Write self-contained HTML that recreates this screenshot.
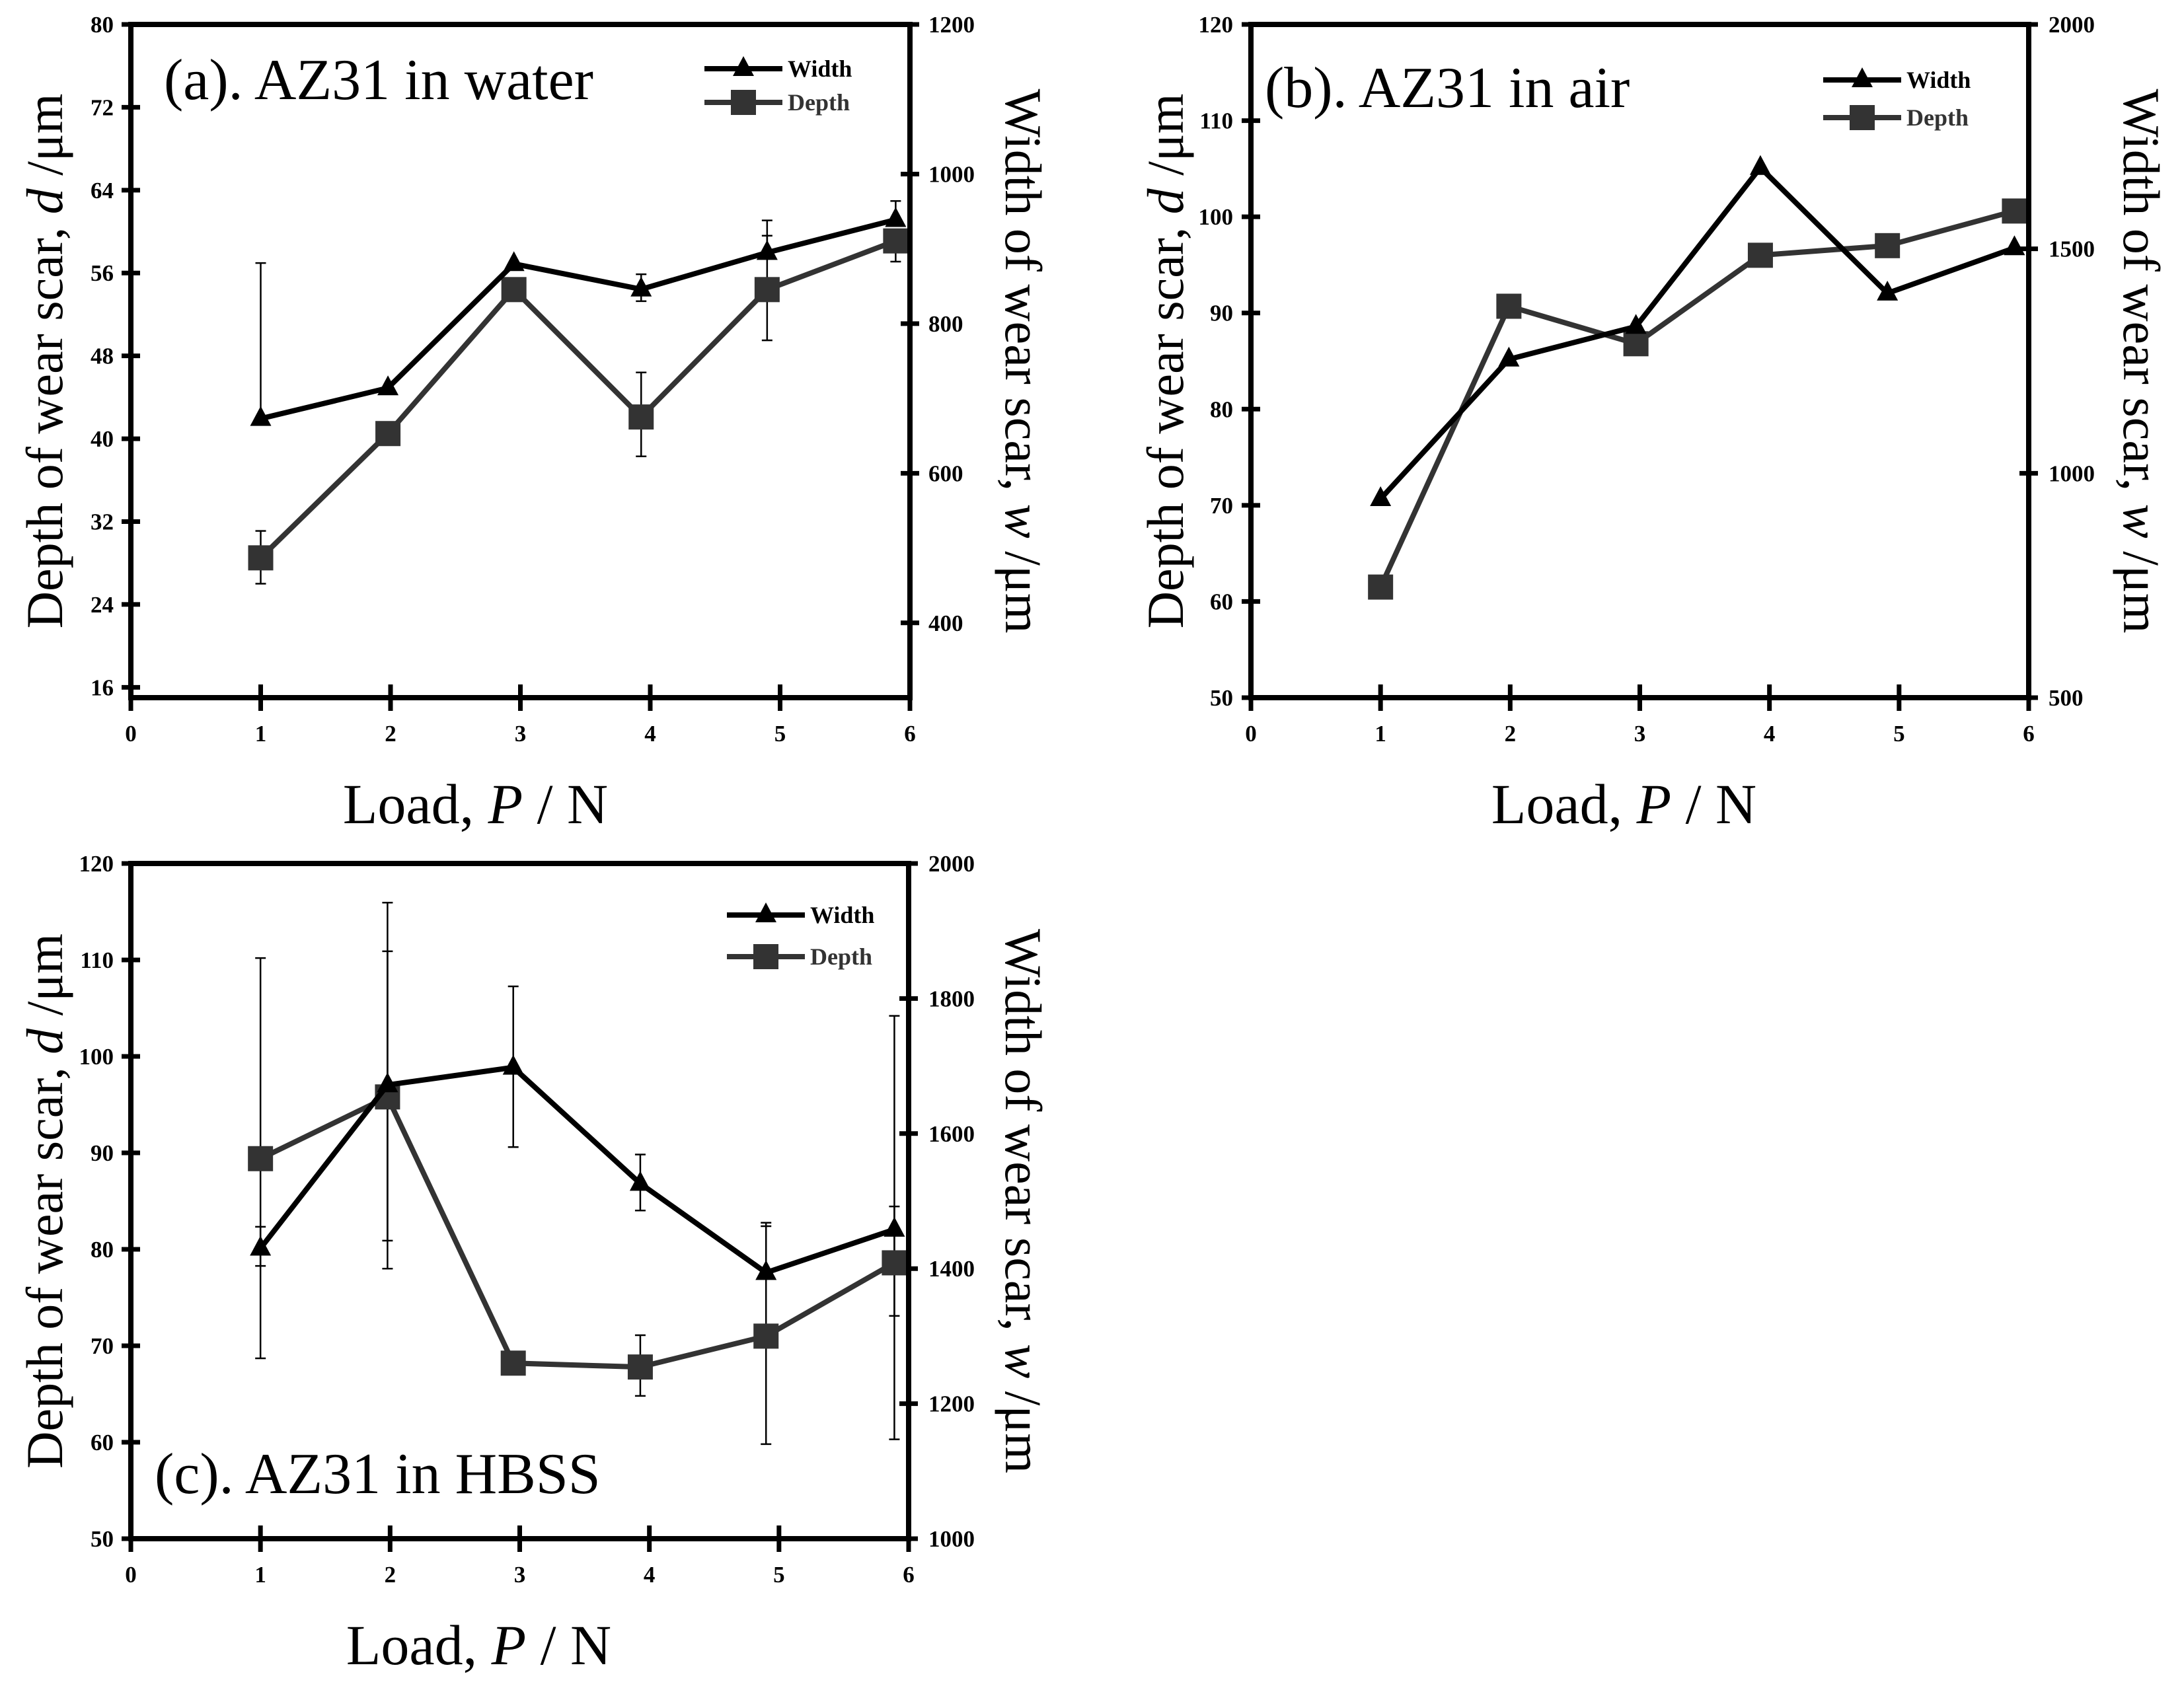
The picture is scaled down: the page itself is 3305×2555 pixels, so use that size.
<!DOCTYPE html>
<html><head><meta charset="utf-8">
<style>
html,body{margin:0;padding:0;background:#fff;}
svg{display:block;}
text{font-family:"Liberation Serif",serif;}
</style></head>
<body>
<svg id="chart" width="3305" height="2555" viewBox="0 0 3305 2555" xmlns="http://www.w3.org/2000/svg"></svg>
<script>
// ---------- data ----------
const loadsA = [1, 1.98, 2.95, 3.93, 4.9, 5.89];
const depthA = [28.5, 40.5, 54.4, 42.1, 54.4, 59.1];
const depthAHi = [31.1, 40.5, 54.4, 46.4, 59.6, 59.1];
const depthALo = [26.0, 40.5, 54.4, 38.3, 49.5, 57.1];
const widthA = [673, 714, 880, 846, 895, 939];
const widthAHi = [881, 714, 880, 866, 938, 964];
const widthALo = [673, 714, 880, 830, 895, 939];

const loadsB = [1, 1.99, 2.97, 3.93, 4.91, 5.89];
const depthB = [61.5, 90.7, 86.8, 96.0, 97.0, 100.6];
const widthB = [943, 1254, 1327, 1681, 1401, 1502];

const loadsC = [1, 1.98, 2.95, 3.93, 4.9, 5.89];
const depthC = [89.4, 95.8, 68.2, 67.8, 71.0, 78.6];
const depthCHi = [110.2, 110.9, 68.2, 71.1, 82.4, 104.2];
const depthCLo = [68.7, 80.9, 68.2, 64.8, 59.8, 60.3];
const widthC = [1430, 1672, 1698, 1526, 1394, 1458];
const widthCHi = [1462, 1942, 1818, 1569, 1468, 1492];
const widthCLo = [1404, 1400, 1580, 1486, 1394, 1330];

const xTicks = [0, 1, 2, 3, 4, 5, 6];
const leftTicksA = [16, 24, 32, 40, 48, 56, 64, 72, 80];
const rightTicksA = [400, 600, 800, 1000, 1200];
const leftTicksB = [50, 60, 70, 80, 90, 100, 110, 120];
const rightTicksB = [500, 1000, 1500, 2000];
const leftTicksC = [50, 60, 70, 80, 90, 100, 110, 120];
const rightTicksC = [1000, 1200, 1400, 1600, 1800, 2000];

const titleA = "(a). AZ31 in water";
const titleB = "(b). AZ31 in air";
const titleC = "(c). AZ31 in HBSS";

// ---------- drawing ----------
const svg = document.getElementById('chart');
const NS = "http://www.w3.org/2000/svg";
function mk(tag, attrs, parent){
  const e = document.createElementNS(NS, tag);
  for (const k in attrs) e.setAttribute(k, attrs[k]);
  (parent || svg).appendChild(e);
  return e;
}

function panel(p){
  const g = mk('g', {});
  
  
  const X = v => p.x0 + (v - 0) / 6 * (p.x1 - p.x0);
  const YL = v => p.y1 - (v - p.lmin) / (p.lmax - p.lmin) * (p.y1 - p.y0);
  const YR = v => p.y1 - (v - p.rmin) / (p.rmax - p.rmin) * (p.y1 - p.y0);

  xTicks.forEach(t => {
    const x = X(t);
    const tk = mk('line', {x1:x, x2:x, y1:p.y1-20, y2:p.y1+20, stroke:'#000','stroke-width':7}, g);
    
    
    const lb = mk('text', {x:x, y:p.y1+66, 'text-anchor':'middle','font-size':35,'font-weight':'bold'}, g);
    lb.textContent = t;
    
    
  });
  p.lt.forEach(t => {
    const y = YL(t);
    const tk = mk('line', {x1:p.x0-14, x2:p.x0+14, y1:y, y2:y, stroke:'#000','stroke-width':7}, g);
    
    
    const lb = mk('text', {x:p.lx, y:y+12, 'text-anchor':'end','font-size':35,'font-weight':'bold'}, g);
    lb.textContent = t;
    
    
  });
  p.rt.forEach(t => {
    const y = YR(t);
    const tk = mk('line', {x1:p.x1-14, x2:p.x1+14, y1:y, y2:y, stroke:'#000','stroke-width':7}, g);
    
    
    const lb = mk('text', {x:p.rx, y:y+12, 'text-anchor':'start','font-size':35,'font-weight':'bold'}, g);
    lb.textContent = t;
    
    
  });

  function err(xs, hi, lo, Y, name){
    xs.forEach((v, i) => {
      if (hi[i] === lo[i]) return;
      const x = X(v), a = Y(hi[i]), b = Y(lo[i]);
      const l = mk('path', {d:`M${x},${a}V${b}M${x-8},${a}H${x+8}M${x-8},${b}H${x+8}`, stroke:'#000','stroke-width':2.5, fill:'none'}, g);
      
      
    });
  }
  if (p.dHi) err(p.xs, p.dHi, p.dLo, YL, 'depth-error-bar');
  if (p.wHi) err(p.xs, p.wHi, p.wLo, YR, 'width-error-bar');

  const dl = mk('polyline', {points:p.xs.map((v,i)=>X(v)+','+YL(p.depth[i])).join(' '), fill:'none', stroke:'#333','stroke-width':8,'stroke-linejoin':'miter'}, g);
  
  
  p.xs.forEach((v,i) => {
    const s = mk('rect', {x:X(v)-19, y:YL(p.depth[i])-19, width:38, height:38, fill:'#333'}, g);
    
    
  });
  const wl = mk('polyline', {points:p.xs.map((v,i)=>X(v)+','+YR(p.width[i])).join(' '), fill:'none', stroke:'#000','stroke-width':8,'stroke-linejoin':'miter'}, g);
  
  
  p.xs.forEach((v,i) => {
    const x = X(v), y = YR(p.width[i]);
    const t = mk('polygon', {points:`${x},${y-19} ${x-16},${y+11} ${x+16},${y+11}`, fill:'#000'}, g);
    
    
  });

  const fr = mk('rect', {x:p.x0, y:p.y0, width:p.x1-p.x0, height:p.y1-p.y0, fill:'none', stroke:'#000','stroke-width':8}, g);
  
  

  const lg = mk('g', {}, g);
  
  
  const ly1 = p.legY, ly2 = p.legY + p.legDy;
  const e1 = mk('line', {x1:p.legX, x2:p.legX+118, y1:ly1, y2:ly1, stroke:'#000','stroke-width':8}, lg);
  
  
  const mx = p.legX+59;
  const e2 = mk('polygon', {points:`${mx},${ly1-19} ${mx-16},${ly1+11} ${mx+16},${ly1+11}`, fill:'#000'}, lg);
  
  
  const t1 = mk('text', {x:p.legX+126, y:ly1+12, 'font-size':36,'font-weight':'bold', fill:'#000'}, lg);
  t1.textContent = 'Width';
  
  
  const e3 = mk('line', {x1:p.legX, x2:p.legX+118, y1:ly2, y2:ly2, stroke:'#333','stroke-width':8}, lg);
  
  
  const e4 = mk('rect', {x:mx-19, y:ly2-19, width:38, height:38, fill:'#333'}, lg);
  
  
  const t2 = mk('text', {x:p.legX+126, y:ly2+12, 'font-size':36,'font-weight':'bold', fill:'#333'}, lg);
  t2.textContent = 'Depth';
  
  

  const tt = mk('text', {x:p.tx, y:p.ty, 'font-size':88}, g);
  tt.textContent = p.title;
  
  

  const cy = (p.y0 + p.y1) / 2;
  const at = mk('text', {x:0, y:0, 'font-size':78, 'text-anchor':'middle', transform:`translate(${p.ltx},${cy}) rotate(-90)`}, g);
  at.innerHTML = 'Depth of wear scar, <tspan font-style="italic">d</tspan> /μm';
  
  
  const rt = mk('text', {x:0, y:0, 'font-size':78, 'text-anchor':'middle', transform:`translate(${p.rtx},${cy}) rotate(90)`}, g);
  rt.innerHTML = 'Width of wear scar, <tspan font-style="italic">w</tspan> /μm';
  
  
  const xt = mk('text', {x:(p.x0+p.x1)/2+p.xtOff, y:p.y1+190, 'font-size':86, 'text-anchor':'middle'}, g);
  xt.innerHTML = 'Load, <tspan font-style="italic">P</tspan> / N';
  
  
}

panel({name:'panel-a', x0:198, x1:1377, y0:37, y1:1056, lmin:15, lmax:80, rmin:300, rmax:1200,
  lt:leftTicksA, rt:rightTicksA, lx:172, rx:1405, xs:loadsA, depth:depthA, width:widthA,
  dHi:depthAHi, dLo:depthALo, wHi:widthAHi, wLo:widthALo,
  legX:1066, legY:104, legDy:51, title:titleA, tx:248, ty:150, ltx:94, rtx:1522, xtOff:-68});
panel({name:'panel-b', x0:1893, x1:3070, y0:37, y1:1056, lmin:50, lmax:120, rmin:500, rmax:2000,
  lt:leftTicksB, rt:rightTicksB, lx:1866, rx:3100, xs:loadsB, depth:depthB, width:widthB,
  legX:2759, legY:121, legDy:57, title:titleB, tx:1914, ty:162, ltx:1790, rtx:3214, xtOff:-24});
panel({name:'panel-c', x0:198, x1:1375, y0:1307, y1:2329, lmin:50, lmax:120, rmin:1000, rmax:2000,
  lt:leftTicksC, rt:rightTicksC, lx:172, rx:1405, xs:loadsC, depth:depthC, width:widthC,
  dHi:depthCHi, dLo:depthCLo, wHi:widthCHi, wLo:widthCLo,
  legX:1100, legY:1385, legDy:63, title:titleC, tx:234, ty:2260, ltx:94, rtx:1522, xtOff:-62});
</script>
</body></html>
